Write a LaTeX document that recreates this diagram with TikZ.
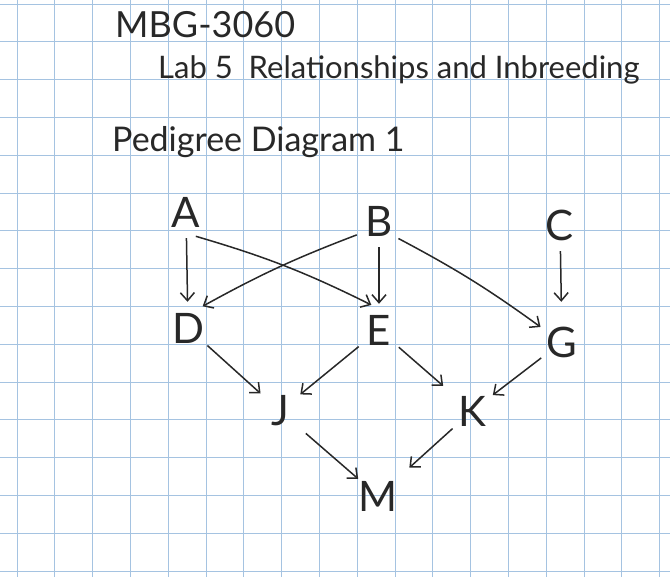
\documentclass[tikz,border=0pt]{standalone}
\usepackage{fontspec}
\setmainfont{Lato}
\usetikzlibrary{arrows.meta,positioning,calc}
\definecolor{gridblue}{RGB}{165,195,225}
\definecolor{pencil}{RGB}{40,40,40}
\tikzset{
  person/.style={circle, inner sep=0, minimum size=52pt, text=pencil, font=\fontsize{42}{42}\selectfont},
  heading/.style={anchor=base west, inner sep=0, text=pencil},
  descent/.style={draw=pencil, line width=1.5pt, -{Straight Barb[length=8pt,width=14pt]}},
}
\begin{document}
\begin{tikzpicture}[x=1pt,y=-1pt]
\useasboundingbox (0,0) rectangle (670,577);
\fill[white] (0,0) rectangle (670,577);
% graph paper
\foreach \i in {0,...,17}
  \draw[gridblue,line width=0.8pt] ({17+37.8*\i},0) -- ++(0,577);
\foreach \j in {0,...,15}
  \draw[gridblue,line width=0.8pt] (0,{4+37.8*\j}) -- ++(670,0);
% headings
\node[heading,font=\fontsize{36}{36}\selectfont] (course) at (115,38) {MBG-3060};
\node[heading,font=\fontsize{31}{31}\selectfont] (lab) at (158,79) {Lab 5\ \ Relationships and Inbreeding};
\node[heading,font=\fontsize{34}{34}\selectfont] (title) at (112,152) {Pedigree Diagram 1};
% individuals
\node[person] (A) at (186,212) {A};
\node[person] (B) at (379,221) {B};
\node[person] (C) at (560,225) {C};
\node[person] (D) at (188,328) {D};
\node[person] (E) at (379,330) {E};
\node[person] (G) at (562,342) {G};
\node[person] (J) at (280,411) {J};
\node[person] (K) at (472,411) {K};
\node[person] (M) at (378,496) {M};
% lines of descent
\draw[descent] (A) -- (D);
\draw[descent] (A.-68) to[bend left=5] (E.107);
\draw[descent] (B.-148) to[bend right=4] (D.56);
\draw[descent] (B) -- (E);
\draw[descent] (B.-42) to[bend left=4] (G.145);
\draw[descent,shorten >=14pt] (C) -- (G);
\draw[descent] (D) -- (J);
\draw[descent] (E) -- (J);
\draw[descent,shorten >=12pt] (E) -- (K);
\draw[descent] (G) -- (K);
\draw[descent,shorten <=8pt] (J) -- (M);
\draw[descent,shorten >=16pt] (K) -- (M);
\end{tikzpicture}
\end{document}
